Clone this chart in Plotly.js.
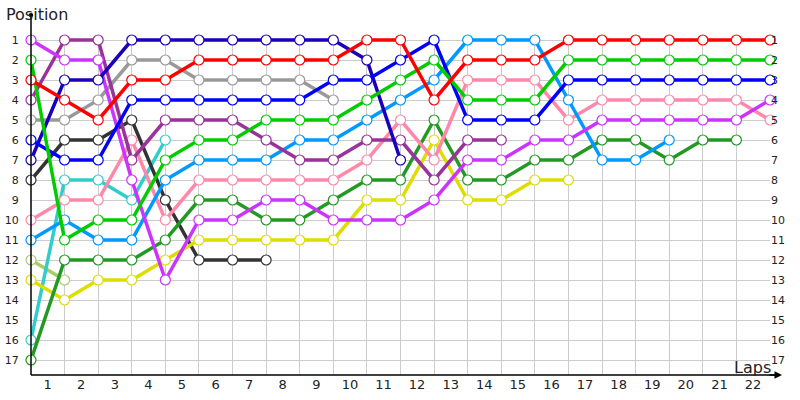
<!DOCTYPE html>
<html>
<head>
<meta charset="utf-8">
<script src="https://cdn.plot.ly/plotly-3.0.1.min.js"></script>
<style>html,body{margin:0;padding:0;background:#fff}#chart{width:800px;height:400px}</style>
</head>
<body>
<div id="chart"></div>
<script>
const laps = [0,1,2,3,4,5,6,7,8,9,10,11,12,13,14,15,16,17,18,19,20,21,22];
const lapLabels = ["1","2","3","4","5","6","7","8","9","10","11","12","13","14","15","16","17","18","19","20","21","22"];
const positions = [1,2,3,4,5,6,7,8,9,10,11,12,13,14,15,16,17];

const red       = [3,4,5,3,3,2,2,2,2,2,1,1,4,2,2,2,1,1,1,1,1,1,1];
const green     = [2,11,10,10,7,6,6,5,5,5,4,3,2,4,4,4,2,2,2,2,2,2,2];
const navy      = [7,3,3,1,1,1,1,1,1,1,2,7];
const blue      = [6,7,7,4,4,4,4,4,4,3,3,2,1,5,5,5,3,3,3,3,3,3,3];
const violet    = [1,2,2,8,13,10,10,9,9,10,10,10,9,7,7,6,6,5,5,5,5,5,4];
const purple    = [4,1,1,7,5,5,5,6,7,7,6,6,8,6,6];
const gray      = [5,5,4,2,2,3,3,3,3,4];
const black     = [8,6,6,5,9,12,12,12];
const cyan      = [16,8,8,9,6];
const lightblue = [11,10,11,11,8,7,7,7,6,6,5,4,3,1,1,1,4,7,7,6];
const pink      = [10,9,9,6,10,8,8,8,8,8,7,5,7,3,3,3,5,4,4,4,4,4,5];
const dkgreen   = [17,12,12,12,11,9,9,10,10,9,8,8,5,8,8,7,7,6,6,7,6,6];
const yellow    = [13,14,13,13,12,11,11,11,11,11,9,9,6,9,9,8,8];
const olive     = [12,13];

const series = [
  {y: olive, c: '#a8cc6a'},
  {y: cyan, c: '#33cccc'},
  {y: black, c: '#333333'},
  {y: gray, c: '#999999'},
  {y: yellow, c: '#dddd00'},
  {y: dkgreen, c: '#229922'},
  {y: pink, c: '#ff88aa'},
  {y: lightblue, c: '#0099ff'},
  {y: purple, c: '#993399'},
  {y: violet, c: '#cc33ff'},
  {y: navy, c: '#1a00bb'},
  {y: blue, c: '#0000ff'},
  {y: green, c: '#00cc00'},
  {y: red, c: '#ff0000'}
];

const traces = series.map(s => ({
  x: laps.slice(0, s.y.length),
  y: s.y,
  type: 'scatter',
  mode: 'lines+markers',
  line: {color: s.c, width: 3.5},
  marker: {symbol: 'circle', size: 10, color: '#ffffff', line: {color: s.c, width: 1.2}},
  hoverinfo: 'skip',
  showlegend: false,
  cliponaxis: false
}));
// empty trace so the right-hand position axis is drawn
traces.push({x: [null], y: [null], yaxis: 'y2', type: 'scatter', mode: 'markers', hoverinfo: 'skip', showlegend: false});

const fontFam = 'DejaVu Sans, Verdana, sans-serif';
const layout = {
  width: 800, height: 400,
  margin: {l: 31, r: 30, t: 35, b: 25, pad: 0},
  paper_bgcolor: '#ffffff', plot_bgcolor: '#ffffff',
  showlegend: false,
  font: {family: fontFam, color: '#222', size: 11},
  xaxis: {
    range: [0, 22], tickvals: laps.slice(1), ticktext: lapLabels,
    ticklabelshift: -17, ticks: '', showgrid: true, gridcolor: '#cccccc', gridwidth: 1,
    zeroline: false, showline: false, tickfont: {size: 13, family: fontFam, color: '#222'}, fixedrange: true
  },
  yaxis: {
    range: [17.75, 0.75], tickvals: positions, ticktext: positions.map(String),
    ticks: 'outside', ticklen: 9, tickcolor: 'rgba(0,0,0,0)', showgrid: true, gridcolor: '#cccccc', gridwidth: 1,
    zeroline: false, showline: false, tickfont: {size: 11, family: fontFam, color: '#222'}, fixedrange: true
  },
  yaxis2: {
    overlaying: 'y', side: 'right', range: [17.75, 0.75], tickvals: positions, ticktext: positions.map(String),
    ticks: '', showgrid: false, zeroline: false, showline: false,
    tickfont: {size: 11, family: fontFam, color: '#222'}, fixedrange: true
  },
  shapes: [
    {type: 'line', xref: 'paper', yref: 'paper', x0: 0, x1: 0, y0: 0, y1: 1.0588, line: {color: '#000', width: 1.5}},
    {type: 'line', xref: 'paper', yref: 'paper', x0: 0, x1: 1.01, y0: 0, y1: 0, line: {color: '#000', width: 1.5}},
    {type: 'circle', xref: 'paper', yref: 'paper', x0: -0.003, x1: 0.003, y0: 1.052, y1: 1.065, fillcolor: '#000', line: {color: '#000', width: 0}}
  ],
  annotations: [
    {xref: 'paper', yref: 'paper', x: (782-31)/739, y: 0, ax: -14, ay: 0, showarrow: true, arrowhead: 2, arrowsize: 1, arrowwidth: 1.5, arrowcolor: '#000', text: ''},
    {xref: 'paper', yref: 'paper', x: (4-31)/739, y: (375-15)/340, xanchor: 'left', yanchor: 'middle', showarrow: false, text: 'Position', font: {size: 16, family: fontFam, color: '#222'}},
    {xref: 'paper', yref: 'paper', x: (773-31)/739, y: (375-367)/340, xanchor: 'right', yanchor: 'middle', showarrow: false, text: 'Laps', font: {size: 16, family: fontFam, color: '#222'}}
  ]
};

Plotly.newPlot('chart', traces, layout, {displayModeBar: false, staticPlot: true});
</script>
</body>
</html>
